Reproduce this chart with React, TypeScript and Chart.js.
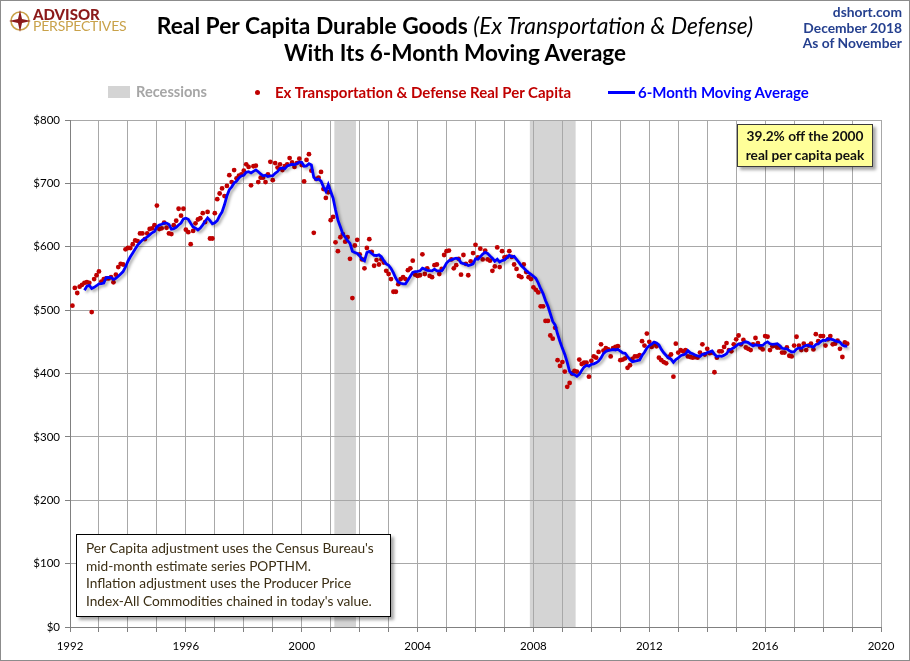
import React, { useEffect, useRef } from "react";
import { Chart, registerables } from "chart.js";
Chart.register(...registerables);

// Monthly values (Feb 1992 .. Nov 2018), dollars per capita
const y1992 = [507, 535, 527, 537, 540, 543, 544, 543, 497, 549, 555]; // starts Feb
const y1993 = [561, 545, 549, 550, 550, 552, 544, 556, 568, 573, 572, 596];
const y1994 = [598, 598, 604, 610, 609, 621, 621, 612, 621, 628, 629, 634];
const y1995 = [665, 628, 629, 638, 630, 621, 620, 634, 641, 660, 649, 660];
const y1996 = [627, 623, 604, 625, 637, 643, 645, 653, 639, 655, 613, 613];
const y1997 = [653, 675, 684, 692, 680, 696, 713, 702, 721, 708, 712, 714];
const y1998 = [720, 730, 726, 697, 727, 728, 702, 709, 709, 702, 714, 734];
const y1999 = [705, 732, 725, 730, 721, 727, 730, 740, 733, 726, 732, 739];
const y2000 = [729, 703, 737, 746, 720, 622, 707, 709, 718, 691, 677, 686];
const y2001 = [642, 647, 607, 593, 615, 620, 608, 615, 581, 519, 602, 611];
const y2002 = [588, 580, 566, 598, 612, 592, 570, 579, 572, 580, 575, 562];
const y2003 = [557, 549, 529, 529, 541, 549, 552, 549, 563, 566, 578, 556];
const y2004 = [554, 555, 588, 557, 566, 554, 552, 571, 572, 557, 565, 587];
const y2005 = [593, 594, 580, 566, 571, 581, 556, 587, 573, 555, 577, 590];
const y2006 = [603, 583, 597, 580, 594, 580, 578, 562, 569, 599, 568, 593];
const y2007 = [583, 584, 593, 584, 572, 565, 554, 552, 572, 560, 552, 549];
const y2008 = [536, 532, 528, 506, 506, 483, 483, 460, 455, 472, 421, 412];
const y2009 = [418, 403, 379, 385, 400, 404, 403, 422, 415, 417, 417, 395];
const y2010 = [420, 427, 425, 434, 446, 436, 440, 438, 427, 440, 442, 443];
const y2011 = [421, 422, 424, 409, 413, 423, 427, 427, 429, 451, 444, 463];
const y2012 = [450, 442, 447, 443, 425, 421, 418, 416, 426, 430, 395, 447];
const y2013 = [433, 437, 435, 437, 427, 426, 425, 426, 425, 433, 446, 430];
const y2014 = [439, 432, 433, 402, 425, 435, 435, 442, 448, 437, 435, 446];
const y2015 = [454, 460, 446, 453, 441, 439, 437, 446, 456, 448, 441, 438];
const y2016 = [459, 458, 437, 443, 444, 441, 441, 433, 433, 441, 428, 427];
const y2017 = [444, 458, 444, 437, 447, 437, 444, 447, 438, 462, 451, 459];
const y2018 = [459, 444, 454, 459, 446, 447, 452, 439, 426, 449, 447]; // to Nov

const yearBlocks = [
  y1992, y1993, y1994, y1995, y1996, y1997, y1998, y1999, y2000, y2001,
  y2002, y2003, y2004, y2005, y2006, y2007, y2008, y2009, y2010, y2011,
  y2012, y2013, y2014, y2015, y2016, y2017, y2018,
];
const firstYear = 1992;
const firstMonthIndex = 1; // February

const xLabelYears = [1992, 1996, 2000, 2004, 2008, 2012, 2016, 2020];
const recessionStarts = [[2001, 3], [2007, 12]];
const recessionEnds = [[2001, 11], [2009, 6]];
const maWindow = 6;

const titleMain = "Real Per Capita Durable Goods ";
const titleItalic = "(Ex Transportation & Defense)";
const titleLine2 = "With Its 6-Month Moving Average";
const sourceLines = ["dshort.com", "December 2018", "As of November"];
const legendRecession = "Recessions";
const legendDots = "Ex Transportation & Defense Real Per Capita";
const legendLine = "6-Month Moving Average";
const peakNote = ["39.2% off the 2000", "real per capita peak"];
const methodNote = [
  "Per Capita adjustment uses the Census Bureau's",
  "mid-month estimate series POPTHM.",
  "Inflation adjustment uses the Producer Price",
  "Index-All Commodities chained in today's value.",
];

const FONT = "Lato, 'Open Sans', sans-serif";

function buildSeries() {
  const pts: { x: number; y: number }[] = [];
  yearBlocks.forEach((block, bi) => {
    const startM = bi === 0 ? firstMonthIndex : 0;
    block.forEach((v, i) => {
      pts.push({ x: firstYear + bi + (startM + i) / 12, y: v });
    });
  });
  const ma: { x: number; y: number }[] = [];
  for (let i = maWindow - 1; i < pts.length; i++) {
    let s = 0;
    for (let k = i - maWindow + 1; k <= i; k++) s += pts[k].y;
    ma.push({ x: pts[i].x, y: s / maWindow });
  }
  return { pts, ma };
}

const recessionPlugin = {
  id: "recessions",
  beforeDraw(chart: any) {
    const { ctx, chartArea, scales } = chart;
    ctx.save();
    ctx.fillStyle = "#d4d4d4";
    recessionStarts.forEach((s, i) => {
      const e = recessionEnds[i];
      const x0 = scales.x.getPixelForValue(s[0] + (s[1] - 1) / 12 - 0.04);
      const x1 = scales.x.getPixelForValue(e[0] + (e[1] - 1) / 12 + 0.04);
      ctx.fillRect(x0, chartArea.top, x1 - x0, chartArea.bottom - chartArea.top);
    });
    ctx.restore();
  },
};

const shadowPlugin = {
  id: "lineShadow",
  beforeDatasetDraw(chart: any, args: any) {
    if (args.index === 0) {
      const ctx = chart.ctx;
      ctx.save();
      ctx.shadowColor = "rgba(0,0,0,0.35)";
      ctx.shadowBlur = 3;
      ctx.shadowOffsetX = 2;
      ctx.shadowOffsetY = 2;
    }
  },
  afterDatasetDraw(chart: any, args: any) {
    if (args.index === 0) chart.ctx.restore();
  },
};

function ChartCanvas() {
  const ref = useRef<HTMLCanvasElement | null>(null);
  useEffect(() => {
    document.body.style.margin = "0";
    const { pts, ma } = buildSeries();
    Chart.defaults.font.family = FONT;
    const chart = new Chart(ref.current as HTMLCanvasElement, {
      type: "scatter",
      data: {
        datasets: [
          {
            type: "line",
            label: legendLine,
            data: ma,
            borderColor: "#0000ff",
            borderWidth: 2.8,
            pointRadius: 0,
            tension: 0,
            fill: false,
            order: 0,
          } as any,
          {
            type: "scatter",
            label: legendDots,
            data: pts,
            backgroundColor: "#c00000",
            borderColor: "#c00000",
            borderWidth: 0,
            pointRadius: 2.4,
            order: 1,
          } as any,
        ],
      },
      options: {
        animation: false,
        responsive: false,
        maintainAspectRatio: false,
        devicePixelRatio: 1,
        layout: { padding: { left: 0, right: 29, top: 120, bottom: 0 } },
        plugins: {
          legend: { display: false },
          tooltip: { enabled: false },
          title: { display: false },
        },
        scales: {
          x: {
            type: "linear",
            min: 1992,
            max: 2020,
            ticks: {
              stepSize: 1,
              autoSkip: false,
              maxRotation: 0,
              color: "#000",
              font: { size: 11.5 },
              padding: 7,
              callback: (v: any) => (xLabelYears.includes(Number(v)) ? String(v) : ""),
            },
            grid: { color: "#a8a8a8", lineWidth: 1, tickLength: 5, tickColor: "#808080" },
            border: { color: "#808080" },
            afterFit: (s: any) => {
              s.height = 34;
            },
          },
          y: {
            min: 0,
            max: 800,
            ticks: {
              stepSize: 100,
              color: "#000",
              font: { size: 11.5 },
              padding: 5,
              callback: (v: any) => "$" + v,
            },
            grid: { color: "#a8a8a8", lineWidth: 1, tickLength: 5, tickColor: "#808080" },
            border: { color: "#808080" },
            afterFit: (s: any) => {
              s.width = 70;
            },
          },
        },
      },
      plugins: [recessionPlugin, shadowPlugin],
    } as any);
    return () => chart.destroy();
  }, []);
  return (
    <canvas
      ref={ref}
      width={910}
      height={661}
      style={{ position: "absolute", left: 0, top: 0, width: 910, height: 661 }}
    />
  );
}

export default function App() {
  const abs = (l: number, t: number, extra: any = {}) => ({
    position: "absolute" as const,
    left: l,
    top: t,
    whiteSpace: "nowrap" as const,
    ...extra,
  });
  return (
    <div
      style={{
        position: "relative",
        width: 910,
        height: 661,
        background: "#fff",
        fontFamily: FONT,
        overflow: "hidden",
      }}
    >
      <ChartCanvas />
      {/* outer frame */}
      <div
        style={{
          position: "absolute",
          left: 0,
          top: 0,
          width: 910,
          height: 661,
          boxSizing: "border-box",
          border: "1px solid #8c8c8c",
          pointerEvents: "none",
        }}
      />
      {/* logo */}
      <svg style={abs(8, 9)} width={24} height={24} viewBox="0 0 24 24">
        <circle cx={12} cy={12} r={9} fill="none" stroke="#c9a24a" strokeWidth={1.6} />
        <polygon points="12,1 14,10 23,12 14,14 12,23 10,14 1,12 10,10" fill="#8b1a1a" />
      </svg>
      <div style={abs(33, 5, { color: "#8b1a1a", fontWeight: 900, fontSize: 15 })}>ADVISOR</div>
      <div style={abs(33, 17, { color: "#c9a24a", fontWeight: 400, fontSize: 14, letterSpacing: -0.2 })}>
        PERSPECTIVES
      </div>
      {/* title */}
      <div style={abs(0, 11, { width: 910, textAlign: "center", fontSize: 22.8, fontWeight: 700, color: "#000" })}>
        {titleMain}
        <span style={{ fontStyle: "italic", fontWeight: 400 }}>{titleItalic}</span>
      </div>
      <div style={abs(0, 39, { width: 910, textAlign: "center", fontSize: 22.5, fontWeight: 700, color: "#000" })}>
        {titleLine2}
      </div>
      {/* source / date */}
      <div
        style={abs(0, 4, {
          left: "auto",
          right: 8,
          textAlign: "right",
          fontSize: 13.8,
          fontWeight: 700,
          color: "#25408f",
          lineHeight: "15.5px",
        })}
      >
        {sourceLines.map((s) => (
          <div key={s}>{s}</div>
        ))}
      </div>
      {/* legend */}
      <div style={abs(108, 86, { width: 22, height: 12, background: "#d4d4d4" })} />
      <div style={abs(136, 83, { fontSize: 14.6, fontWeight: 700, color: "#a6a6a6" })}>{legendRecession}</div>
      <div style={abs(255, 90, { width: 5, height: 5, borderRadius: 3, background: "#c00000" })} />
      <div style={abs(275, 83, { fontSize: 15, fontWeight: 700, color: "#c00000" })}>{legendDots}</div>
      <div style={abs(608, 91, { width: 27, height: 3, background: "#0000ff" })} />
      <div style={abs(638, 83, { fontSize: 15, fontWeight: 700, color: "#0000ff" })}>{legendLine}</div>
      {/* peak annotation */}
      <div
        style={abs(737, 124, {
          width: 136,
          height: 43,
          boxSizing: "border-box",
          background: "#ffff99",
          border: "1px solid #3a3a3a",
          boxShadow: "3px 3px 3px rgba(0,0,0,0.35)",
          textAlign: "center",
          fontSize: 13.7,
          fontWeight: 700,
          color: "#111",
          lineHeight: "19px",
          paddingTop: 1,
        })}
      >
        {peakNote.map((s) => (
          <div key={s}>{s}</div>
        ))}
      </div>
      {/* method note */}
      <div
        style={abs(76, 534, {
          width: 315,
          height: 83,
          boxSizing: "border-box",
          background: "#fff",
          border: "1px solid #000",
          boxShadow: "3px 3px 3px rgba(0,0,0,0.35)",
          fontSize: 13.7,
          color: "#3b2e14",
          lineHeight: "17.7px",
          paddingLeft: 9,
          paddingTop: 4,
        })}
      >
        {methodNote.map((s) => (
          <div key={s}>{s}</div>
        ))}
      </div>
    </div>
  );
}
